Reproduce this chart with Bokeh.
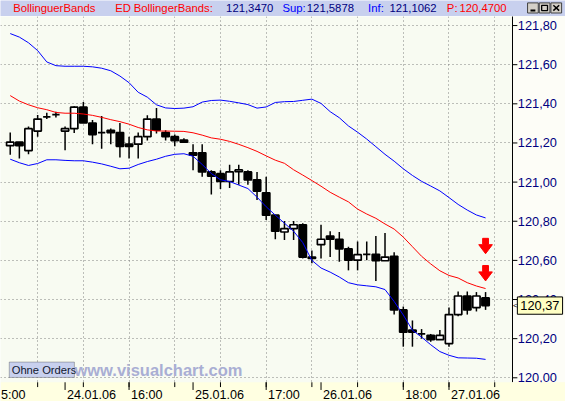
import numpy as np
from bokeh.plotting import figure
from bokeh.layouts import column
from bokeh.models import Range1d, FixedTicker, Grid, BoxAnnotation, Label
from bokeh.embed import file_html
from bokeh.resources import INLINE
from bokeh.core.properties import value

# ---------------- data ----------------
opens = [121.186, 121.204, 121.161, 121.261, 121.333, 121.345, 121.261, 121.273, 121.383, 121.302,
         121.253, 121.265, 121.253, 121.194, 121.194, 121.232, 121.322, 121.253, 121.232, 121.215,
         121.150, 121.150, 121.052, 121.043, 121.003, 121.053, 121.052, 121.011, 120.945, 120.831,
         120.745, 120.762, 120.782, 120.610, 120.680, 120.724, 120.708, 120.659, 120.601, 120.631,
         120.631, 120.598, 120.621, 120.347, 120.244, 120.224, 120.217, 120.195, 120.175, 120.323,
         120.418, 120.359, 120.408]
highs = [121.253, 121.204, 121.284, 121.343, 121.355, 121.360, 121.284, 121.387, 121.409, 121.317,
         121.338, 121.274, 121.302, 121.232, 121.253, 121.342, 121.379, 121.265, 121.243, 121.224,
         121.194, 121.194, 121.060, 121.060, 121.089, 121.089, 121.060, 121.052, 121.027, 120.831,
         120.801, 120.801, 120.790, 120.650, 120.782, 120.749, 120.745, 120.670, 120.696, 120.696,
         120.724, 120.740, 120.642, 120.364, 120.293, 120.249, 120.224, 120.244, 120.359, 120.441,
         120.441, 120.438, 120.438]
lows = [121.140, 121.121, 121.142, 121.232, 121.322, 121.330, 121.163, 121.251, 121.302, 121.194,
        121.170, 121.194, 121.126, 121.121, 121.121, 121.212, 121.248, 121.212, 121.183, 121.204,
        121.060, 121.027, 120.937, 120.965, 120.970, 120.986, 120.986, 120.909, 120.806, 120.708,
        120.704, 120.704, 120.610, 120.585, 120.610, 120.617, 120.593, 120.549, 120.549, 120.601,
        120.495, 120.598, 120.323, 120.159, 120.159, 120.200, 120.184, 120.195, 120.159, 120.315,
        120.323, 120.339, 120.347]
closes = [121.204, 121.186, 121.273, 121.322, 121.333, 121.345, 121.273, 121.383, 121.302, 121.243,
          121.253, 121.253, 121.183, 121.183, 121.232, 121.322, 121.265, 121.232, 121.212, 121.204,
          121.138, 121.052, 121.030, 121.003, 121.052, 121.062, 121.011, 120.954, 120.831, 120.749,
          120.762, 120.782, 120.617, 120.617, 120.708, 120.708, 120.659, 120.601, 120.629, 120.631,
          120.598, 120.617, 120.347, 120.233, 120.233, 120.224, 120.195, 120.217, 120.323, 120.418,
          120.347, 120.418, 120.369]
upper = [121.759, 121.741, 121.712, 121.672, 121.614, 121.595, 121.592, 121.592, 121.592, 121.589,
         121.582, 121.569, 121.542, 121.508, 121.459, 121.434, 121.395, 121.379, 121.376, 121.378,
         121.385, 121.409, 121.417, 121.419, 121.413, 121.405, 121.396, 121.378, 121.384, 121.407,
         121.411, 121.412, 121.418, 121.424, 121.402, 121.360, 121.329, 121.287, 121.255, 121.220,
         121.181, 121.142, 121.107, 121.068, 121.034, 121.004, 120.980, 120.955, 120.921, 120.886,
         120.857, 120.832, 120.817]
middle = [121.442, 121.414, 121.395, 121.380, 121.370, 121.356, 121.352, 121.352, 121.348, 121.341,
          121.331, 121.319, 121.309, 121.296, 121.279, 121.267, 121.261, 121.261, 121.260, 121.259,
          121.252, 121.240, 121.226, 121.219, 121.208, 121.193, 121.176, 121.157, 121.134, 121.112,
          121.096, 121.063, 121.036, 121.008, 120.979, 120.948, 120.923, 120.899, 120.862, 120.837,
          120.815, 120.786, 120.760, 120.719, 120.670, 120.621, 120.582, 120.547, 120.523, 120.510,
          120.486, 120.469, 120.456]
lower = [121.117, 121.099, 121.085, 121.095, 121.114, 121.114, 121.111, 121.109, 121.109, 121.102,
         121.093, 121.081, 121.068, 121.071, 121.090, 121.105, 121.117, 121.132, 121.142, 121.145,
         121.132, 121.090, 121.044, 121.012, 121.003, 120.985, 120.967, 120.923, 120.874, 120.831,
         120.790, 120.749, 120.691, 120.600, 120.561, 120.540, 120.515, 120.486, 120.475, 120.470,
         120.465, 120.451, 120.390, 120.321, 120.243, 120.208, 120.169, 120.134, 120.115, 120.102,
         120.101, 120.100, 120.094]

y_ticks = [120.0, 120.2, 120.4, 120.6, 120.8, 121.0, 121.2, 121.4, 121.6, 121.8]
grid_idx = [3, 8, 13, 18, 23, 28, 33, 38, 43, 48, 53]
date_idx = [6, 20, 34, 48]
date_labels = ["24.01.06", "25.01.06", "26.01.06", "27.01.06"]
hour_idx = [-2, 13, 28, 43]
hour_labels = ["5:00", "16:00", "17:00", "18:00"]   # first one is cut at the left edge in the source
signal_idx = [52, 52]
signal_tip = [120.634, 120.495]

title_texts = ["BollinguerBands", "ED", "BollingerBands:", "121,3470", "Sup:", "121,5878",
               "Inf:", "121,1062", "P:", "120,4700"]

# ---------------- layout / style ----------------
RED, NAVY, BLUE = "#ff0000", "#000080", "#0000ff"
title_x = [13, 118, 137, 232, 290, 315, 378, 400, 459, 472]
title_colors = [RED, RED, RED, NAVY, BLUE, NAVY, BLUE, NAVY, RED, RED]

W, H = 565, 401
REF_W, REF_H = 581, 417
SX, SY = W / REF_W, H / REF_H
TITLE_H = 16
MAIN_H = H - TITLE_H
REF_TOP = REF_H - MAIN_H / SY
AXIS_PX = 526.5          # reference x of the price axis line
STRIP_PX = 397           # reference y of the top of the time strip
X0_PX, DX_PX = 10.0, 9.4
V0, V_PER_PX = 121.928, 0.004914


def rx(px):
    return (px - X0_PX) / DX_PX


def ry(py):
    return V0 - py * V_PER_PX


def fs(px):
    return f"{px * SX:.1f}px"


FONT = value("Liberation Sans")
LAVENDER = "#c8d0ee"
STRIP = "#ffffe1"
AXIS_BG = "#fdfdf7"
PLOT_BG = "#f8fbf2"

# ---------------- title bar ----------------
t = figure(width=W, height=TITLE_H, x_range=Range1d(0, REF_W), y_range=Range1d(REF_TOP, 0),
           title=None, output_backend="svg", toolbar_location=None,
           x_axis_location=None, y_axis_location=None,
           min_border_left=0, min_border_right=0, min_border_top=0, min_border_bottom=0,
           background_fill_color=LAVENDER, border_fill_color=LAVENDER, outline_line_color=None)
t.grid.visible = False
t.text(x=title_x, y=[7.4] * len(title_texts), text=title_texts, text_color=title_colors,
       text_font=FONT, text_font_size=fs(11.6), text_baseline="middle", text_align="left")
btn_l = [542, 554, 566]
t.quad(left=btn_l, right=[b + 11 for b in btn_l], top=[2.5] * 3, bottom=[13] * 3,
       fill_color="#d4d0c8", line_color="#404040", line_width=1)
t.segment(x0=[545], y0=[10.5], x1=[550], y1=[10.5], line_color="black", line_width=2)
t.quad(left=[556.5], right=[562.5], top=[5], bottom=[10.5], fill_color=None, line_color="black",
       line_width=1.3)
t.segment(x0=[568.5, 568.5], y0=[5, 10.5], x1=[574.5, 574.5], y1=[10.5, 5], line_color="black",
          line_width=1.5)

# ---------------- main chart ----------------
p = figure(width=W, height=MAIN_H, x_range=Range1d(rx(0), rx(REF_W)),
           y_range=Range1d(ry(REF_H), ry(REF_TOP)),
           title=None, output_backend="svg", toolbar_location=None,
           x_axis_location=None, y_axis_location=None,
           min_border_left=0, min_border_right=0, min_border_top=0, min_border_bottom=0,
           background_fill_color=PLOT_BG, border_fill_color=AXIS_BG, outline_line_color=None)
p.grid.visible = False

p.add_layout(Grid(dimension=0, ticker=FixedTicker(ticks=grid_idx), grid_line_color="#808080",
                  grid_line_dash="1 3", grid_line_width=1))
p.add_layout(Grid(dimension=1, ticker=FixedTicker(ticks=y_ticks), grid_line_color="#808080",
                  grid_line_dash="1 3", grid_line_width=1))

# price-axis column background (covers the grid), drawn first among glyphs
p.quad(left=[rx(AXIS_PX)], right=[rx(REF_W + 2)], top=[ry(REF_TOP - 2)], bottom=[ry(STRIP_PX)],
       fill_color=AXIS_BG, line_color=None)

idx = list(range(len(closes)))
o = np.array(opens)
c = np.array(closes)
body_top = np.maximum(o, c)
body_bot = np.minimum(o, c)
fills = ["#ffffff" if cc > oo else "#000000" for oo, cc in zip(opens, closes)]

p.segment(x0=idx, y0=lows, x1=idx, y1=highs, line_color="black", line_width=1.5)
p.vbar(x=idx, width=0.8, top=body_top, bottom=body_bot, fill_color=fills, line_color="black",
       line_width=1.7)

p.line(idx, upper, line_color=BLUE, line_width=1)
p.line(idx, middle, line_color=RED, line_width=1)
p.line(idx, lower, line_color=BLUE, line_width=1)

# signal arrows (shape in reference pixels relative to the tip)
arrow_shape = [(-3, 16), (3, 16), (3, 9.4), (7, 9.4), (0, 0), (-7, 9.4), (-3, 9.4)]
axs = [[xi + dx / DX_PX for dx, dy in arrow_shape] for xi in signal_idx]
ays = [[yi + dy * V_PER_PX for dx, dy in arrow_shape] for yi in signal_tip]
p.patches(axs, ays, fill_color=RED, line_color=RED, line_width=1)

# price axis: line, ticks, labels
nt = len(y_ticks)
p.segment(x0=[rx(AXIS_PX)], y0=[ry(STRIP_PX)], x1=[rx(AXIS_PX)], y1=[ry(REF_TOP - 2)],
          line_color="black", line_width=1)
p.segment(x0=[rx(AXIS_PX)] * nt, y0=y_ticks, x1=[rx(AXIS_PX + 5)] * nt, y1=y_ticks,
          line_color="black", line_width=1)
p.text(x=[rx(AXIS_PX + 5.5)] * nt, y=y_ticks,
       text=[f"{v:.2f}".replace(".", ",") for v in y_ticks],
       text_font=FONT, text_font_size=fs(13.2), text_color=NAVY,
       text_baseline="middle", text_align="left")

# bottom time strip (annotation level: above the glyphs)
p.add_layout(BoxAnnotation(top=ry(STRIP_PX), fill_color=STRIP, fill_alpha=1, line_color=None))
p.segment(x0=grid_idx, y0=[ry(STRIP_PX)] * len(grid_idx), x1=grid_idx,
          y1=[ry(STRIP_PX + 5)] * len(grid_idx), line_color="black", line_width=1, level="overlay")
lab_idx = date_idx + hour_idx
p.segment(x0=lab_idx, y0=[ry(STRIP_PX)] * len(lab_idx), x1=lab_idx,
          y1=[ry(STRIP_PX + 8)] * len(lab_idx), line_color="black", line_width=1, level="overlay")
# label text starts 2 px right of its tick, but never left of the chart edge
lab_x = [rx(max(X0_PX + DX_PX * i + 2, 0.5)) for i in lab_idx]
p.text(x=lab_x, y=[ry(410)] * len(lab_idx), text=date_labels + hour_labels,
       text_font=FONT, text_font_size=fs(13), text_color="black",
       text_baseline="middle", text_align="left", level="overlay")

# "Ohne Orders" button and watermark
p.add_layout(BoxAnnotation(left=rx(9), right=rx(76), top=ry(376), bottom=ry(392),
                           fill_color=LAVENDER, fill_alpha=1, line_color="#202020", line_width=1))
p.add_layout(Label(x=rx(11.5), y=ry(384.5), text="Ohne Orders", text_font="Liberation Sans",
                   text_font_size=fs(11.5), text_color="#101830", text_baseline="middle"))
p.add_layout(Label(x=rx(76), y=ry(384), text="www.visualchart.com", text_font="Liberation Sans",
                   text_font_style="bold", text_font_size=fs(17), text_color="#a9aed4",
                   text_baseline="middle"))

# last price box on the axis
last = closes[-1]
box_half = 9 * V_PER_PX
p.quad(left=[rx(AXIS_PX + 5)], right=[rx(578)], top=[last + box_half], bottom=[last - box_half],
       fill_color="#ffffc4", line_color="black", line_width=1, level="overlay")
p.text(x=[rx(AXIS_PX + 8)], y=[last], text=[f"{last:.2f}".replace(".", ",")],
       text_font=FONT, text_font_size=fs(13.2), text_color="black",
       text_baseline="middle", text_align="left", level="overlay")
p.text(x=[rx(AXIS_PX + 0.5)], y=[last], text=["<"], text_font=FONT, text_font_size="8px",
       text_color="black", text_baseline="middle", text_align="left", level="overlay")

layout = column(t, p, spacing=0)
open("out.html", "w").write(file_html(layout, INLINE))
